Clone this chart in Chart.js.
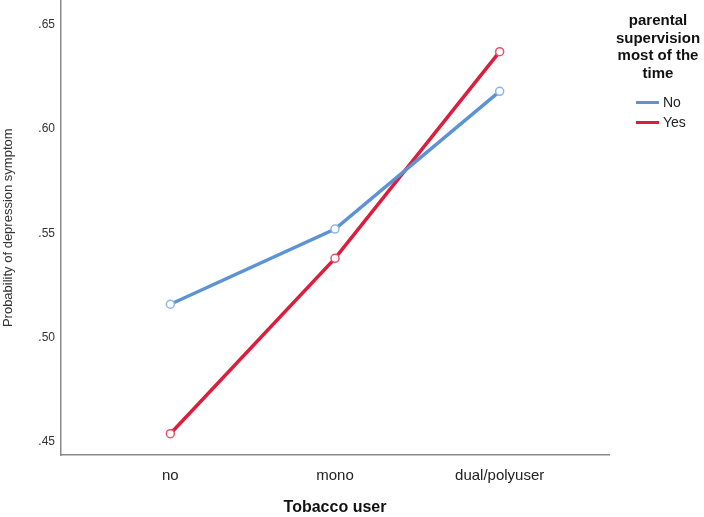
<!DOCTYPE html>
<html>
<head>
<meta charset="utf-8">
<script src="https://cdn.jsdelivr.net/npm/chart.js@4/dist/chart.umd.min.js"></script>
<style>
  body { margin: 0; background: #fff; font-family: "Liberation Sans", Arial, sans-serif; }
  #wrap { position: relative; width: 704px; height: 517px; overflow: hidden; }
  #chart { display: block; margin-top: -5px; }
  #legend { position: absolute; left: 612px; top: 11px; width: 92px; text-align: center; }
  #legend .title { font-weight: bold; font-size: 15px; line-height: 17.5px; color: #111; }
  #legend .item { display: flex; align-items: center; height: 20px; margin-left: 24px; font-size: 14px; color: #222; }
  #legend .swatch { width: 23px; height: 3px; margin-right: 4px; }
</style>
</head>
<body>
<div id="wrap">
  <canvas id="chart" width="704" height="522"></canvas>
  <div id="legend"></div>
</div>
<script>
// Data
const categories = ["no", "mono", "dual/polyuser"];
const noSupervision = [0.516, 0.552, 0.618];
const yesSupervision = [0.454, 0.538, 0.637];
const yTicks = [0.45, 0.50, 0.55, 0.60, 0.65];
const legendTitle = "parental supervision most of the time";

const blue = "#5b93d5";
const red = "#dc1e3c";

function toPoints(values) {
  return values.map((v, i) => ({ x: i, y: v }));
}

const ctx = document.getElementById("chart").getContext("2d");
const chart = new Chart(ctx, {
  type: "line",
  data: {
    datasets: [
      {
        label: "No",
        data: toPoints(noSupervision),
        borderColor: blue,
        borderWidth: 3.5,
        pointRadius: 4,
        pointBorderWidth: 1.5,
        pointBorderColor: "#8db5e6",
        pointBackgroundColor: "#fff"
      },
      {
        label: "Yes",
        data: toPoints(yesSupervision),
        borderColor: red,
        borderWidth: 3.5,
        pointRadius: 4,
        pointBorderWidth: 1.5,
        pointBorderColor: "#e4546a",
        pointBackgroundColor: "#fff"
      }
    ]
  },
  options: {
    responsive: false,
    animation: false,
    layout: { padding: { top: 0, right: 95, bottom: 0, left: 0 } },
    plugins: {
      legend: { display: false },
      tooltip: { enabled: false }
    },
    scales: {
      x: {
        type: "linear",
        min: -0.664,
        max: 2.664,
        grid: { display: false, drawTicks: false },
        border: { display: true, color: "#8a8a8a", width: 1.5 },
        afterBuildTicks: scale => {
          scale.ticks = categories.map((c, i) => ({ value: i }));
        },
        afterFit: scale => {
          scale.height = 62;
          scale.paddingLeft = 0;
          scale.paddingRight = 0;
        },
        ticks: {
          padding: 12,
          color: "#222",
          font: { family: "Liberation Sans", size: 15 },
          callback: value => categories[value]
        },
        title: {
          display: true,
          text: "Tobacco user",
          color: "#111",
          font: { family: "Liberation Sans", size: 16, weight: "bold" },
          padding: { top: 0, bottom: 0 }
        }
      },
      y: {
        min: 0.4438,
        max: 0.6615,
        grid: { display: false, drawTicks: false },
        border: { display: true, color: "#8a8a8a", width: 1.5 },
        afterBuildTicks: scale => {
          scale.ticks = yTicks.map(v => ({ value: v }));
        },
        afterFit: scale => {
          scale.width = 61;
          scale.paddingTop = 0;
          scale.paddingBottom = 0;
        },
        ticks: {
          padding: 6,
          color: "#333",
          font: { family: "Liberation Sans", size: 12 },
          callback: value => value.toFixed(2).replace(/^0/, "")
        },
        title: {
          display: true,
          text: "Probability of depression symptom",
          color: "#333",
          font: { family: "Liberation Sans", size: 13 },
          padding: { top: 1, bottom: 0 }
        }
      }
    }
  }
});

// Legend built from the chart datasets
const legend = document.getElementById("legend");
const title = document.createElement("div");
title.className = "title";
title.textContent = legendTitle;
legend.appendChild(title);
const items = document.createElement("div");
items.style.marginTop = "11px";
chart.data.datasets.forEach(ds => {
  const row = document.createElement("div");
  row.className = "item";
  const sw = document.createElement("span");
  sw.className = "swatch";
  sw.style.background = ds.borderColor;
  const label = document.createElement("span");
  label.textContent = ds.label;
  row.appendChild(sw);
  row.appendChild(label);
  items.appendChild(row);
});
legend.appendChild(items);
</script>
</body>
</html>
